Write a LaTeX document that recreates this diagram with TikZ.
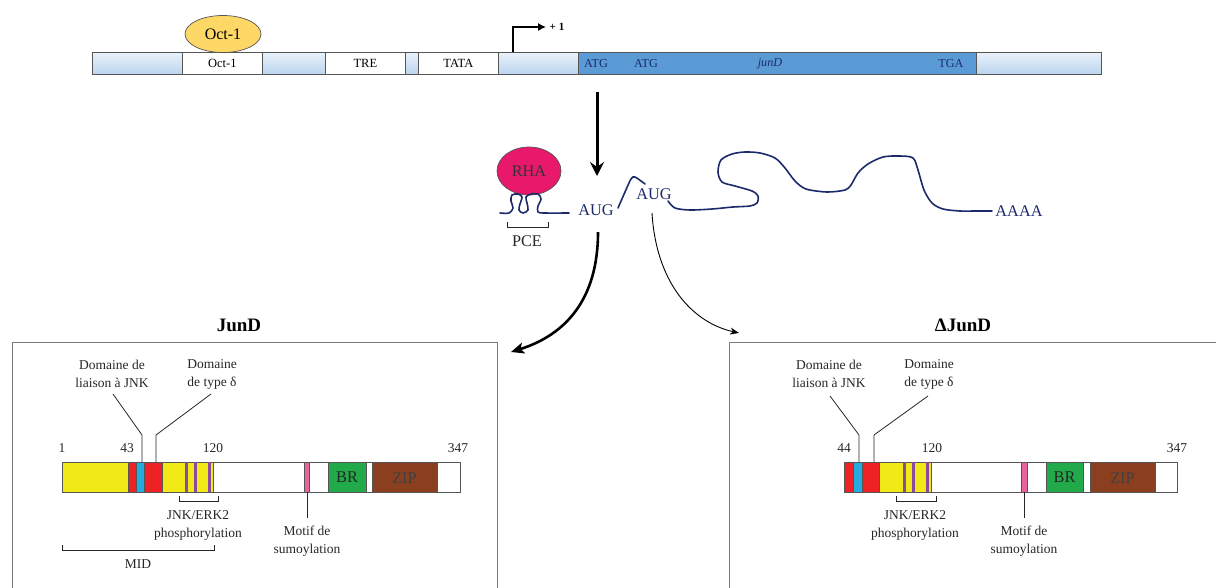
\documentclass[tikz,border=0pt]{standalone}
\usepackage{fontspec}
\setmainfont{Liberation Serif}
\usetikzlibrary{arrows.meta,shapes.geometric}
\definecolor{lbtop}{HTML}{EAF2FB}
\definecolor{lbbot}{HTML}{BCD5EE}
\definecolor{genblue}{HTML}{5B9BD5}
\definecolor{octy}{HTML}{FDD866}
\definecolor{rha}{HTML}{E8196B}
\definecolor{navy}{HTML}{1C2A6B}
\definecolor{pyel}{HTML}{F2EA17}
\definecolor{pred}{HTML}{EE2125}
\definecolor{pblue}{HTML}{27AAE1}
\definecolor{ppur}{HTML}{8A4A9E}
\definecolor{ppink}{HTML}{E8649C}
\definecolor{pgreen}{HTML}{22A94A}
\definecolor{pbrown}{HTML}{8B3F1F}
\definecolor{segline}{HTML}{555555}
\definecolor{boxline}{HTML}{7A7A7A}
\tikzset{
  lbseg/.style={draw=segline, line width=0.7pt, top color=lbtop, bottom color=lbbot},
  whseg/.style={draw=segline, line width=0.7pt, fill=white},
  dbseg/.style={draw=segline, line width=0.7pt, fill=genblue},
  gtxt/.style={font=\fontsize{12.5}{15}\selectfont, inner sep=0pt},
  btxt/.style={font=\fontsize{12.2}{15}\selectfont, text=navy, inner sep=0pt},
  ltxt/.style={font=\fontsize{13.5}{18}\selectfont, align=center, inner sep=0pt, text=black!85},
  mtxt/.style={font=\fontsize{16.3}{19}\selectfont, inner sep=0pt},
  ttl/.style={font=\fontsize{19}{22}\selectfont\bfseries, inner sep=0pt},
  rna/.style={draw=navy, line width=1.6pt, line cap=round, line join=round},
  pseg/.style={draw=segline, line width=0.7pt},
  leader/.style={draw=black!85, line width=0.8pt},
  brk/.style={draw=black!85, line width=0.8pt},
  pbox/.style={draw=boxline, line width=0.9pt},
}
\begin{document}
\begin{tikzpicture}[x=1pt,y=-1pt]
\useasboundingbox (0,0) rectangle (1216,587);
\clip (0,0) rectangle (1216,587);

% ---------------- gene bar ----------------
\path[lbseg] (92,52) rectangle (182,74);
\node[whseg, minimum width=80pt, minimum height=22pt, anchor=north west, gtxt] (oct) at (182,52) {Oct-1};
\path[lbseg] (262,52) rectangle (325,74);
\node[whseg, minimum width=80pt, minimum height=22pt, anchor=north west, gtxt] (tre) at (325,52) {TRE};
\path[lbseg] (405,52) rectangle (418,74);
\node[whseg, minimum width=80pt, minimum height=22pt, anchor=north west, gtxt] (tata) at (418,52) {TATA};
\path[lbseg] (498,52) rectangle (578,74);
\path[dbseg] (578,52) rectangle (976,74);
\path[lbseg] (976,52) rectangle (1101,74);
\node[btxt] (atga) at (596,63.5) {ATG};
\node[btxt] (atgb) at (646,63.5) {ATG};
\node[btxt] (jund) at (770,63.5) {\itshape junD};
\node[btxt] (tga) at (951,63.5) {TGA};

\node[ellipse, draw=segline, line width=0.7pt, fill=octy, minimum width=76pt, minimum height=37pt, inner sep=0pt,
      font=\fontsize{16}{19}\selectfont] (octp) at (223,34) {Oct-1};

% transcription start
\coordinate (tss0) at (513,52);
\coordinate (tss1) at (513,27);
\coordinate (tss2) at (546,27);
\draw[line width=1.2pt, -{Latex[length=8pt,width=8pt]}] (tss0) -- (tss1) -- (tss2);
\node[font=\fontsize{11}{13}\selectfont\bfseries, inner sep=0pt] (plus) at (557,27) {+ 1};

% big down arrow
\coordinate (da0) at (597,92);
\coordinate (da1) at (597,176);
\draw[line width=3pt, -{Stealth[length=14pt,width=14pt,inset=5pt]}] (da0) -- (da1);

% ---------------- mRNA ----------------
\node[ellipse, draw=segline, line width=0.7pt, fill=rha, minimum width=64pt, minimum height=48pt, inner sep=0pt,
      font=\fontsize{16.3}{19}\selectfont, text=black!80] (rhan) at (529,171) {RHA};
\draw[rna] plot[smooth, tension=0.55] coordinates {(500,213) (509,213) (513,208) (511,201) (512,195) (518,194) (522,197) (520,204) (519,210) (523,213) (528,210) (527,203) (526,197) (531,194) (538,194) (541,199) (538,206) (538,212) (545,213) (569,213)};
\node[mtxt, text=navy] (aug1) at (596,210.5) {AUG};
\node[mtxt, text=navy] (aug2) at (654,194) {AUG};
\draw[rna] plot[smooth, tension=0.5] coordinates {(618,208) (625,192) (631,179) (635,177) (645,184)};
\draw[rna] plot[smooth, tension=0.5] coordinates {(668,201) (675,208) (690,210) (712,209) (733,207) (750,206) (757,203) (758,196) (752,191) (735,186) (722,182) (718,172) (721,160) (732,154) (745,152) (760,153) (775,158) (785,168) (795,181) (806,189) (827,192) (845,190) (851,185) (858,173) (868,164) (883,157) (900,156) (913,158) (918,170) (924,190) (932,203) (943,209) (960,211) (975,211) (992,211)};
\node[mtxt, text=navy] (aaaa) at (1019,211) {AAAA};

% PCE bracket
\coordinate (pa) at (507,222);
\coordinate (pb) at (548,222);
\draw[brk] (pa) -- ++(0,5) -| (pb);
\node[mtxt, text=black!85] (pce) at (527,241) {PCE};

% curved arrows
\coordinate (ca0) at (598,232);
\coordinate (ca1) at (511,352);
\draw[line width=2.6pt, -{Stealth[length=13pt,width=11pt,inset=3pt]}] (ca0) .. controls (598,300) and (565,335) .. (ca1);
\coordinate (cb0) at (652,213);
\coordinate (cb1) at (739,333);
\draw[line width=0.9pt, -{Stealth[length=9pt,width=7pt]}] (cb0) .. controls (656,280) and (690,322) .. (cb1);

% ---------------- boxes ----------------
\draw[pbox] (12,600) -- (12,342) -- (497,342) -- (497,600);
\draw[pbox] (729,600) -- (729,342) -- (1230,342);
\node[ttl] (t1) at (239,325) {JunD};
\node[ttl] (t2) at (963,325) {ΔJunD};

% ---------------- JunD protein ----------------
\path[pseg, fill=pyel] (62,462) rectangle (128,492);
\path[pseg, fill=pred] (128,462) rectangle (136,492);
\path[pseg, fill=pblue] (136,462) rectangle (144,492);
\path[pseg, fill=pred] (144,462) rectangle (162,492);
\path[pseg, fill=pyel] (162,462) rectangle (213,492);
\fill[ppur] (184.8,462) rectangle (187.5,492);
\fill[ppur] (193.8,462) rectangle (196.5,492);
\fill[ppur] (207.8,462) rectangle (210.5,492);
\path[pseg, fill=white] (213,462) rectangle (304,492);
\path[pseg, fill=ppink] (304,462) rectangle (309,492);
\path[pseg, fill=white] (309,462) rectangle (328,492);
\path[pseg, fill=pgreen] (328,462) rectangle (366,492);
\path[pseg, fill=white] (366,462) rectangle (372,492);
\path[pseg, fill=pbrown] (372,462) rectangle (437,492);
\path[pseg, fill=white] (437,462) rectangle (460,492);
\node[mtxt, text=black!85] (br1) at (347,477) {BR};
\node[mtxt, text=black!75] (zip1) at (404.5,478) {ZIP};
\node[ltxt] (n1a) at (62,448) {1};
\node[ltxt] (n1b) at (127,448) {43};
\node[ltxt] (n1c) at (213,448) {120};
\node[ltxt] (n1d) at (458,448) {347};
\node[ltxt] (jnk1) at (112,374) {Domaine de\\liaison à JNK};
\node[ltxt] (del1) at (212,374) {Domaine\\de type δ};
\coordinate (jk1) at (142,435);
\coordinate (jk1b) at (142,462);
\coordinate (dl1) at (156,435);
\coordinate (dl1b) at (156,462);
\draw[leader] (113,394) -- (jk1) -- (jk1b);
\draw[leader] (211,394) -- (dl1) -- (dl1b);
\draw[brk] (179,496) -- (179,501) -- (218,501) -- (218,496);
\node[ltxt] (ph1) at (198,525) {JNK/ERK2\\phosphorylation};
\coordinate (sm1) at (307,492);
\coordinate (sm1b) at (307,518);
\draw[leader] (sm1) -- (sm1b);
\node[ltxt] (mo1) at (307,541) {Motif de\\sumoylation};
\draw[brk] (62,545) -- (62,550) -- (214,550) -- (214,545);
\node[ltxt] (mid) at (138,564) {MID};

% ---------------- DeltaJunD protein ----------------
\path[pseg, fill=pred] (844,462) rectangle (853,492);
\path[pseg, fill=pblue] (853,462) rectangle (862,492);
\path[pseg, fill=pred] (862,462) rectangle (879,492);
\path[pseg, fill=pyel] (879,462) rectangle (931,492);
\fill[ppur] (902.8,462) rectangle (905.5,492);
\fill[ppur] (911.8,462) rectangle (914.5,492);
\fill[ppur] (925.8,462) rectangle (928.5,492);
\path[pseg, fill=white] (931,462) rectangle (1021,492);
\path[pseg, fill=ppink] (1021,462) rectangle (1027,492);
\path[pseg, fill=white] (1027,462) rectangle (1046,492);
\path[pseg, fill=pgreen] (1046,462) rectangle (1083,492);
\path[pseg, fill=white] (1083,462) rectangle (1090,492);
\path[pseg, fill=pbrown] (1090,462) rectangle (1155,492);
\path[pseg, fill=white] (1155,462) rectangle (1177,492);
\node[mtxt, text=black!85] (br2) at (1064.5,477) {BR};
\node[mtxt, text=black!75] (zip2) at (1122.5,478) {ZIP};
\node[ltxt] (n2a) at (844,448) {44};
\node[ltxt] (n2c) at (932,448) {120};
\node[ltxt] (n2d) at (1177,448) {347};
\node[ltxt] (jnk2) at (829,374) {Domaine de\\liaison à JNK};
\node[ltxt] (del2) at (929,374) {Domaine\\de type δ};
\coordinate (jk2) at (859,435);
\coordinate (jk2b) at (859,462);
\coordinate (dl2) at (874,435);
\coordinate (dl2b) at (874,462);
\draw[leader] (830,396) -- (jk2) -- (jk2b);
\draw[leader] (928,396) -- (dl2) -- (dl2b);
\draw[brk] (896,496) -- (896,501) -- (936,501) -- (936,496);
\node[ltxt] (ph2) at (915,525) {JNK/ERK2\\phosphorylation};
\coordinate (sm2) at (1024,492);
\coordinate (sm2b) at (1024,518);
\draw[leader] (sm2) -- (sm2b);
\node[ltxt] (mo2) at (1024,541) {Motif de\\sumoylation};
\end{tikzpicture}
\end{document}
